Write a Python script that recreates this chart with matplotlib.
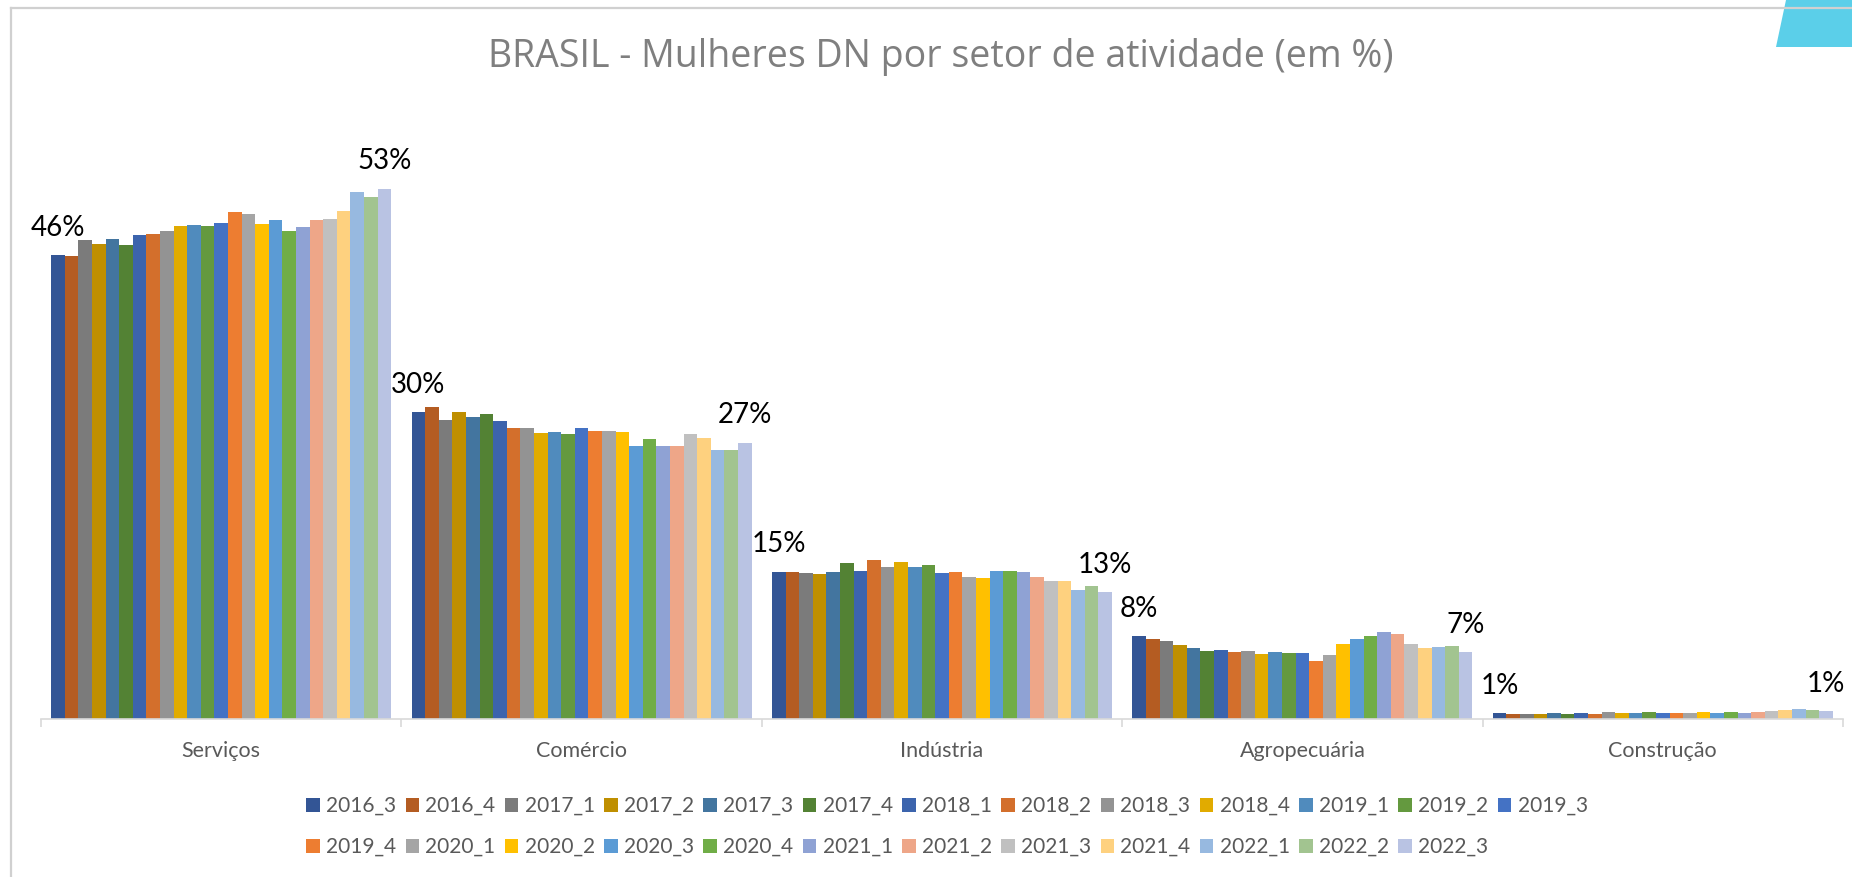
import matplotlib
matplotlib.use("Agg")
import matplotlib.pyplot as plt
from matplotlib.patches import Patch, Polygon
from matplotlib.lines import Line2D
import numpy as np

plt.rcParams['font.family'] = ['Lato', 'DejaVu Sans']

categories = ["Serviços", "Comércio", "Indústria", "Agropecuária", "Construção"]
series_names = ["2016_3", "2016_4", "2017_1", "2017_2", "2017_3", "2017_4",
                "2018_1", "2018_2", "2018_3", "2018_4", "2019_1", "2019_2",
                "2019_3", "2019_4", "2020_1", "2020_2", "2020_3", "2020_4",
                "2021_1", "2021_2", "2021_3", "2021_4", "2022_1", "2022_2",
                "2022_3"]
colors = ["#335595", "#B45C22", "#7B7B7B", "#BF8F00", "#43759F", "#538234",
          "#3C64AD", "#D36F2C", "#939393", "#E1AB00", "#508BBD", "#64993F",
          "#4472C4", "#ED7D31", "#A5A5A5", "#FFC000", "#5B9BD5", "#70AD47",
          "#8FA2D4", "#EEA688", "#C0C0C0", "#FED17F", "#97B9E0", "#A2C490",
          "#B9C3E3"]

servicos = [46.0, 45.9, 47.5, 47.1, 47.6, 47.0, 48.0, 48.1, 48.35, 48.9, 49.0, 48.9,
            49.2, 50.3, 50.1, 49.1, 49.45, 48.4, 48.8, 49.45, 49.6, 50.4, 52.3, 51.8, 52.6]
comercio = [30.4, 30.9, 29.7, 30.4, 30.0, 30.2, 29.6, 28.9, 28.9, 28.4, 28.5, 28.3,
            28.9, 28.6, 28.6, 28.5, 27.1, 27.8, 27.1, 27.1, 28.3, 27.9, 26.7, 26.7, 27.4]
industria = [14.6, 14.6, 14.5, 14.4, 14.6, 15.5, 14.7, 15.8, 15.1, 15.6, 15.1, 15.3,
             14.5, 14.6, 14.1, 14.0, 14.7, 14.7, 14.6, 14.1, 13.7, 13.7, 12.8, 13.2, 12.6]
agropecuaria = [8.2, 7.9, 7.7, 7.3, 7.0, 6.7, 6.8, 6.6, 6.7, 6.4, 6.6, 6.55,
                6.55, 5.75, 6.35, 7.45, 7.95, 8.25, 8.6, 8.45, 7.4, 7.0, 7.1, 7.2, 6.6]
construcao = [0.55, 0.5, 0.5, 0.47, 0.55, 0.47, 0.62, 0.5, 0.72, 0.56, 0.56, 0.72,
              0.62, 0.56, 0.56, 0.69, 0.56, 0.66, 0.6, 0.72, 0.82, 0.92, 0.99, 0.92, 0.76]

data = np.array([servicos, comercio, industria, agropecuaria, construcao])  # cat x series

W, H = 1852, 877
fig = plt.figure(figsize=(W / 100, H / 100), dpi=100)

# decorative slide elements
fig.add_artist(Polygon([(1786 / W, 1), (1 + 0.01, 1), (1 + 0.01, 1 - 47 / H), (1776 / W, 1 - 47 / H)],
                       closed=True, transform=fig.transFigure, facecolor="#5BCFE9",
                       edgecolor="none", zorder=0))
fig.add_artist(Line2D([11 / W, 1.01], [1 - 8 / H, 1 - 8 / H], transform=fig.transFigure,
                      color="#D0D0D0", lw=1.6, zorder=1))
fig.add_artist(Line2D([11 / W, 11 / W], [-0.01, 1 - 8 / H], transform=fig.transFigure,
                      color="#D0D0D0", lw=1.6, zorder=1))

base_y = 719
top_y = 114
ax = fig.add_axes([41 / W, 1 - base_y / H, 1802 / W, (base_y - top_y) / H])
ymax = 60
ax.set_ylim(0, ymax)
ax.set_xlim(-0.5, len(categories) - 0.5)

nser = len(series_names)
group_w = 0.9434
bw = group_w / nser
x = np.arange(len(categories))
for i in range(nser):
    xi = x - group_w / 2 + bw * (i + 0.5)
    ax.bar(xi, data[:, i], width=bw, color=colors[i], edgecolor='none', label=series_names[i],
           zorder=2)
    if i == 0 or i == nser - 1:
        for xx, v in zip(xi, data[:, i]):
            ax.annotate(f"{int(v + 0.5)}%", (xx, v), xytext=(0, 14), textcoords='offset points',
                        ha='center', va='baseline', fontsize=20, color='#000000')

for s in ['top', 'right', 'left']:
    ax.spines[s].set_visible(False)
ax.spines['bottom'].set_color('#D9D9D9')
ax.spines['bottom'].set_linewidth(1.2)
ax.set_yticks([])
ax.set_xticks(x)
ax.set_xticklabels(categories, fontsize=15.5, color='#595959')
ax.tick_params(axis='x', which='major', length=0, pad=16)
ax.set_xticks(np.arange(-0.5, len(categories)), minor=True)
ax.tick_params(axis='x', which='minor', length=6, width=1.2, color='#D9D9D9', direction='out')

fig.text(941 / W, 1 - 57 / H, "BRASIL - Mulheres DN por setor de atividade (em %)",
         ha='center', va='center', fontsize=27, color='#7F7F7F',
         family=['Open Sans', 'DejaVu Sans'])

# legend in row-major order (13 columns, 2 rows)
ncol = 13
handles = [Patch(facecolor=c, edgecolor='none') for c in colors]
order = []
for j in range(ncol - 1):
    order += [j, ncol + j]
order.append(ncol - 1)
leg = fig.legend([handles[k] for k in order], [series_names[k] for k in order],
                 loc='center', bbox_to_anchor=(947 / W, 1 - 826.5 / H), ncol=ncol,
                 frameon=False, fontsize=15, handlelength=0.65, handleheight=0.65,
                 handletextpad=0.3, columnspacing=0.45, labelspacing=1.0, borderpad=0)
for t in leg.get_texts():
    t.set_color('#595959')

fig.savefig("out.png", dpi=100, facecolor='white')
